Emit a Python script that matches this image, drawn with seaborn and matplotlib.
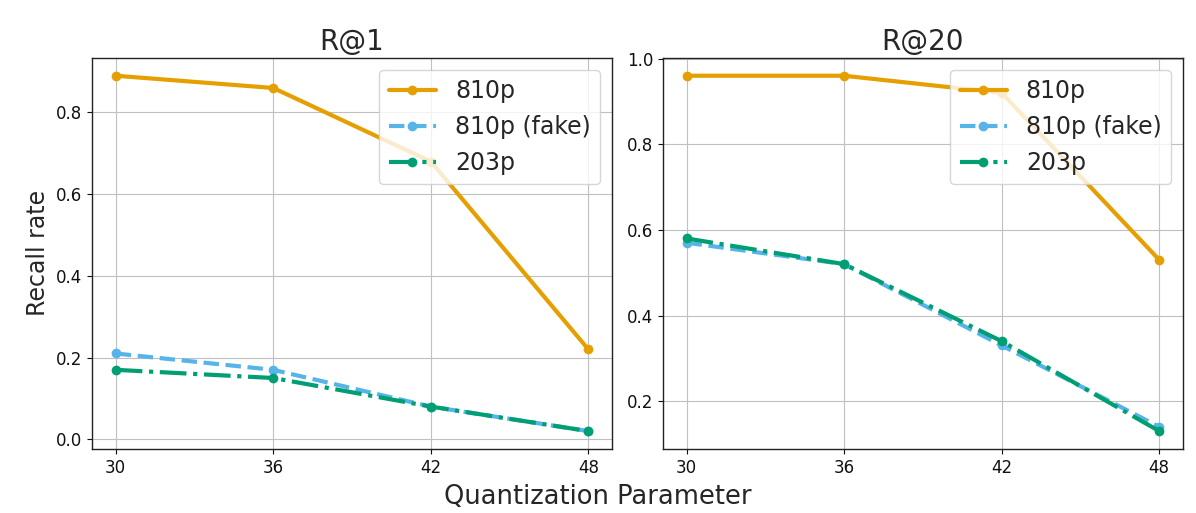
import matplotlib
matplotlib.use("Agg")
import matplotlib.pyplot as plt
import seaborn as sns
import pandas as pd

# data
qp = [30, 36, 42, 48]
r1_810 = [0.89, 0.86, 0.68, 0.22]
r1_810_fake = [0.21, 0.17, 0.08, 0.02]
r1_203 = [0.17, 0.15, 0.08, 0.02]
r20_810 = [0.96, 0.96, 0.92, 0.53]
r20_810_fake = [0.57, 0.52, 0.33, 0.14]
r20_203 = [0.58, 0.52, 0.34, 0.13]

series = ["810p", "810p (fake)", "203p"]
colors = ["#E69F00", "#56B4E9", "#009E73"]
styles = ["-", "--", "-."]

sns.set_style("ticks")
plt.rcParams["font.family"] = ["DejaVu Sans"]

fig, axes = plt.subplots(1, 2, figsize=(11.96, 5.13), dpi=100)

panels = [
    ("R@1", [r1_810, r1_810_fake, r1_203]),
    ("R@20", [r20_810, r20_810_fake, r20_203]),
]

for ax, (title, vals) in zip(axes, panels):
    for name, v, c, ls in zip(series, vals, colors, styles):
        df = pd.DataFrame({"qp": qp, "rate": v})
        sns.lineplot(data=df, x="qp", y="rate", ax=ax, color=c, linestyle=ls,
                     linewidth=3, marker="o", markersize=7, markeredgewidth=0,
                     label=name)
    ax.set_title(title, fontsize=20)
    ax.set_xticks(qp)
    ax.set_xlabel("")
    ax.set_ylabel("")
    ax.tick_params(labelsize=12, colors="#111111")
    ax.grid(True, color="#c0c0c0", linewidth=0.8)
    for sp in ax.spines.values():
        sp.set_color("#222222")
        sp.set_linewidth(1.0)
    ax.legend(loc="upper right", fontsize=17, framealpha=0.8)

axes[0].set_yticks([0.0, 0.2, 0.4, 0.6, 0.8])
axes[1].set_yticks([0.2, 0.4, 0.6, 0.8, 1.0])
axes[0].set_ylabel("Recall rate", fontsize=17)
fig.supxlabel("Quantization Parameter", fontsize=18.5, y=0.005)

plt.subplots_adjust(left=0.077, right=0.989, top=0.887, bottom=0.125, wspace=0.098)
plt.savefig("out.png", dpi=100)
